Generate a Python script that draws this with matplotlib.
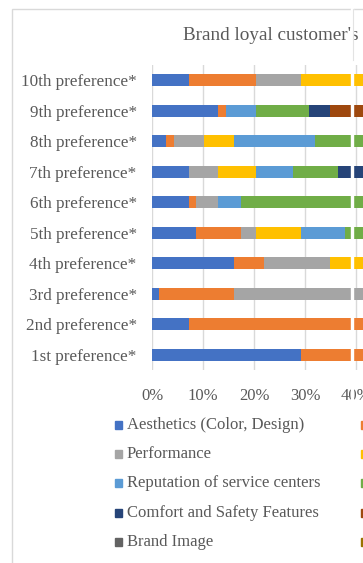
import matplotlib.pyplot as plt
from matplotlib.patches import Rectangle
from matplotlib.lines import Line2D
from matplotlib.ticker import PercentFormatter
import numpy as np

plt.rcParams['font.family'] = ['Liberation Serif', 'DejaVu Serif']

W, H = 363, 563

# preference ranks, bottom to top
categories = ["1st preference*", "2nd preference*", "3rd preference*", "4th preference*",
              "5th preference*", "6th preference*", "7th preference*", "8th preference*",
              "9th preference*", "10th preference*"]

series_names = ["Aesthetics (Color, Design)", "Price",
                "Performance", "Fuel Efficiency",
                "Reputation of service centers", "Resale Value",
                "Comfort and Safety Features", "Availability of Spare Parts",
                "Brand Image", "Technology"]

# share of respondents (%) per rank, one list per factor (1st .. 10th)
aesthetics   = [29.2,  7.3,  1.3, 16.0,  8.6,  7.3,  7.3,  2.8, 12.9,  7.3]
price        = [25.0, 55.9, 14.7,  5.9,  8.8,  1.3,  0.0,  1.6,  1.6, 13.0]
performance  = [16.2, 17.6, 30.9, 13.0,  2.9,  4.4,  5.7,  5.7,  0.0,  8.9]
fuel         = [10.3,  8.8, 14.7, 10.3,  8.9,  0.0,  7.3,  5.9,  0.0, 14.7]
service      = [ 5.9,  4.4, 10.3, 11.8,  8.7,  4.4,  7.4, 15.9,  5.8, 10.3]
resale       = [ 4.4,  2.9,  8.8, 10.3,  7.4, 26.5,  8.8, 13.2, 10.4, 11.8]
comfort      = [ 2.9,  1.5,  7.4, 11.8, 13.2, 14.7,  8.8, 11.8,  4.2, 10.3]
spare_parts  = [ 2.9,  1.6,  5.9,  8.8, 14.7, 13.2, 16.2, 14.7, 10.3,  8.8]
brand_image  = [ 1.5,  0.0,  3.0,  7.4, 13.2, 14.7, 20.6, 14.7, 27.9,  7.4]
technology   = [ 1.7,  0.0,  3.0,  4.7, 13.6, 13.5, 17.9, 13.7, 26.9,  7.6]

series = [aesthetics, price, performance, fuel, service,
          resale, comfort, spare_parts, brand_image, technology]

colors = ['#4472C4', '#ED7D31', '#A5A5A5', '#FFC000', '#5B9BD5',
          '#70AD47', '#264478', '#9E480E', '#636363', '#997300']

text_color = '#595959'
grid_color = '#D9D9D9'


def fx(x):
    return x / W


def fy(y):
    return 1 - y / H


fig = plt.figure(figsize=(W / 100, H / 100), dpi=100)

# chart frame
fig.add_artist(Rectangle((fx(12), fy(700)), fx(800), fy(9) - fy(700),
                         transform=fig.transFigure, fill=False,
                         edgecolor=grid_color, linewidth=1))

fig.text(fx(183), fy(35), "Brand loyal customer's preference ranking of purchase factors",
         ha='left', va='center', fontsize=13.8, color=text_color)

# plot area runs wider than the figure, the right part is cut off
ax = fig.add_axes([fx(152), fy(370), fx(510), fy(65) - fy(370)])

y = np.arange(len(categories))
left = np.zeros(len(categories))
for name, vals, c in zip(series_names, series, colors):
    vals = np.array(vals) / 100
    ax.barh(y, vals, left=left, height=0.4, color=c, label=name, zorder=2)
    left += vals

ax.set_xlim(0, 1)
ax.set_ylim(-0.5, len(categories) - 0.5)
ax.set_xticks(np.arange(0, 1.01, 0.1))
ax.xaxis.set_major_formatter(PercentFormatter(1.0, decimals=0))
ax.set_yticks(y)
ax.set_yticklabels(categories)
ax.tick_params(axis='both', length=0, labelsize=12, labelcolor=text_color)
ax.tick_params(axis='y', pad=11, labelsize=12.3)
ax.tick_params(axis='x', pad=13)
ax.grid(axis='x', color=grid_color, linewidth=1)
ax.set_axisbelow(True)
for s in ax.spines.values():
    s.set_visible(False)

# legend, two columns
row_y = [425, 454, 483, 513, 542]
col_x = [115, 361]
for i, (name, c) in enumerate(zip(series_names, colors)):
    r, k = divmod(i, 2)
    fig.add_artist(Rectangle((fx(col_x[k]), fy(row_y[r] + 4)), fx(7), fy(row_y[r] - 4) - fy(row_y[r] + 4),
                             transform=fig.transFigure, color=c))
    fig.text(fx(col_x[k] + 12), fy(row_y[r]), name, ha='left', va='center',
             fontsize=12, color=text_color)

# seam across the panel
fig.add_artist(Rectangle((fx(350.5), 0), fx(2.2), fy(9) + 0.002,
                         transform=fig.transFigure, color='white', zorder=10))
fig.add_artist(Line2D([fx(352.7), fx(352.7)], [fy(9), fy(60)], transform=fig.transFigure,
                      color='#E3E3E3', linewidth=0.8, zorder=11))

fig.savefig('out.png', dpi=100)
